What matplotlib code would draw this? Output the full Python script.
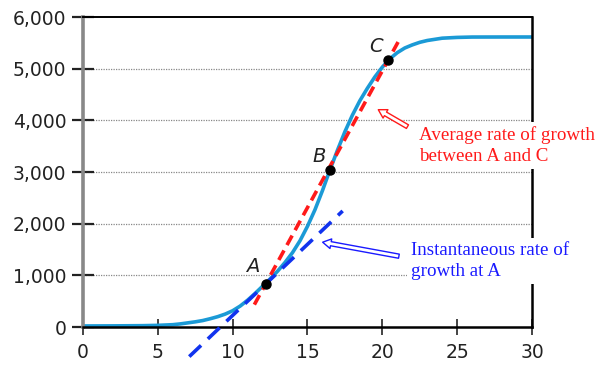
import numpy as np
import matplotlib.pyplot as plt
from matplotlib.patches import FancyArrowPatch

# growth curve
t = [0, 2, 4, 5, 6, 6.5, 7, 7.5, 8, 8.5, 9, 9.5, 10, 10.5, 11, 11.5, 12, 12.5, 13, 13.5,
     14, 14.5, 15, 15.5, 16, 16.5, 17, 17.5, 18, 18.5, 19, 19.5, 20, 20.5, 21, 21.5,
     22, 22.5, 23, 24, 25, 26, 28, 30]
pop = [20, 22, 26, 32, 45, 60, 80, 100, 125, 160, 200, 250, 315, 405, 520, 650, 790, 930,
       1080, 1250, 1440, 1670, 1950, 2270, 2640, 3040, 3420, 3780, 4100, 4380, 4620, 4840,
       5030, 5190, 5310, 5400, 5460, 5510, 5545, 5590, 5605, 5612, 5613, 5613]

point_names = ['A', 'B', 'C']
point_x = [12.2, 16.5, 20.4]
point_y = [830, 3040, 5170]

x_ticks = [0, 5, 10, 15, 20, 25, 30]
y_ticks = [0, 1000, 2000, 3000, 4000, 5000, 6000]

curve_color = '#1b9ad6'

fig = plt.figure(figsize=(5.98, 3.68), dpi=100)
ax = fig.add_axes([0.1388, 0.1114, 0.7508, 0.8424])

ax.plot(t, pop, color=curve_color, lw=2.6, zorder=2, solid_joinstyle='round')

# average rate A -> C (secant)
slope_ac = (point_y[2] - point_y[0]) / (point_x[2] - point_x[0])
xs = np.array([11.45, 21.25])
ax.plot(xs, point_y[0] + slope_ac * (xs - point_x[0]), color='#ff1a1a', lw=2.6,
        dashes=(3.0, 1.7), zorder=3, clip_on=False)

# tangent at A
slope_a = 275
xt = np.array([7.1, 17.35])
ax.plot(xt, point_y[0] + slope_a * (xt - point_x[0]), color='#1133ee', lw=2.6,
        dashes=(4.5, 2.6), zorder=3, clip_on=False)

ax.plot(point_x, point_y, 'o', color='black', ms=6.5, zorder=4)
offsets = [(-0.84, 234), (-0.7, 153), (-0.8, 152)]
for name, px, py, (dx, dy) in zip(point_names, point_x, point_y, offsets):
    ax.text(px + dx, py + dy, name, fontsize=14, fontstyle='italic', color='#222222',
            ha='center', va='baseline', zorder=4)

ax.set_xlim(0, 30)
ax.set_ylim(0, 6000)
ax.set_xticks(x_ticks)
ax.set_yticks(y_ticks)
ax.set_yticklabels([f'{v:,}' for v in y_ticks])
ax.tick_params(axis='y', direction='inout', length=16, width=1.6, pad=4,
               labelsize=13.5, labelcolor='#222222', color='#222222')
ax.tick_params(axis='x', direction='inout', length=11, width=1.4, pad=6,
               labelsize=13.5, labelcolor='#222222', color='#444444')

for v in y_ticks[1:-1]:
    ax.axhline(v, color='#888888', lw=0.9, ls=(0, (1, 1)), zorder=0.5)

ax.spines['left'].set_color('#888888')
ax.spines['left'].set_linewidth(2.6)
ax.spines['bottom'].set_linewidth(1.8)
ax.spines['right'].set_linewidth(1.8)
ax.spines['top'].set_linewidth(1.4)

serif = ['Liberation Serif', 'DejaVu Serif']
ax.text(22.45, 3880, 'Average rate of growth\nbetween A and C', color='#ff1a1a',
        fontsize=13.7, family=serif, linespacing=1.3, va='top', ha='left',
        bbox=dict(facecolor='white', edgecolor='none', pad=3), zorder=5, clip_on=False)
ax.text(21.9, 1650, 'Instantaneous rate of\ngrowth at A', color='#1a1aff',
        fontsize=13.7, family=serif, linespacing=1.3, va='top', ha='left',
        bbox=dict(facecolor='white', edgecolor='none', pad=3), zorder=5, clip_on=False)

for tail, head, col in [((21.84, 3851), (19.57, 4233), '#ff1a1a'),
                        ((21.29, 1361), (15.83, 1651), '#1a1aff')]:
    arr = FancyArrowPatch(tail, head, arrowstyle='simple,head_length=0.6,head_width=0.7,tail_width=0.3',
                          mutation_scale=10, facecolor='white', edgecolor=col, lw=1.0,
                          zorder=6, clip_on=False)
    ax.add_patch(arr)

fig.savefig('out.png', dpi=100)
